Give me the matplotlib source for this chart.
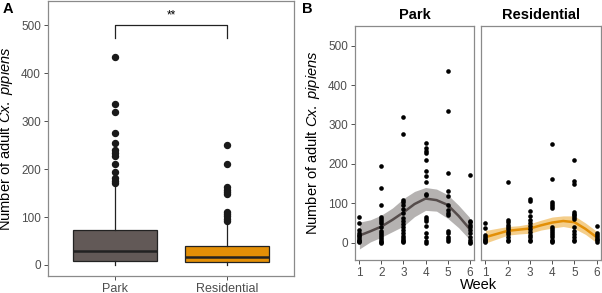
import matplotlib
matplotlib.use("Agg")
import matplotlib.pyplot as plt
import numpy as np

plt.rcParams['font.family'] = ['Liberation Sans', 'DejaVu Sans']
plt.rcParams['mathtext.fontset'] = 'custom'
plt.rcParams['mathtext.rm'] = 'Liberation Sans'
plt.rcParams['mathtext.it'] = 'Liberation Sans:italic'

# ---------------- data ----------------
sites = ["Park", "Residential"]
# panel A box statistics
box_q1 = [8, 6]
box_med = [29, 17]
box_q3 = [73, 40]
box_whislo = [0, 0]
box_whishi = [169, 85]
park_fliers = [435, 335, 320, 276, 254, 240, 233, 227, 210, 195, 181, 176, 172]
res_fliers = [250, 210, 162, 157, 153, 148, 110, 106, 102, 97, 92]

weeks = [1, 2, 3, 4, 5, 6]
park_by_week = [
    [66, 50, 32, 25, 20, 16, 12, 8, 5, 3, 1],
    [195, 140, 95, 66, 60, 55, 50, 40, 30, 25, 20, 15, 10, 5, 2, 0],
    [320, 276, 108, 103, 95, 85, 75, 62, 55, 48, 40, 32, 25, 18, 12, 8, 4, 1],
    [254, 240, 233, 227, 210, 181, 169, 155, 124, 122, 66, 60, 54, 42, 25, 15, 5, 0],
    [435, 335, 176, 131, 119, 95, 82, 76, 70, 30, 24, 15, 10, 5],
    [172, 56, 52, 45, 40, 32, 24, 15, 8, 2, 0],
]
res_by_week = [
    [50, 36, 20, 14, 10, 7, 4, 2],
    [153, 58, 52, 45, 40, 34, 28, 22, 15, 8, 4],
    [110, 106, 81, 68, 58, 51, 42, 35, 28, 20, 14, 7, 3],
    [250, 162, 102, 97, 92, 87, 40, 35, 30, 25, 20, 14, 8, 4, 1],
    [210, 157, 148, 78, 74, 70, 66, 60, 40, 30, 22, 15, 8, 3],
    [42, 25, 20, 15, 10, 6, 2],
]
# loess smooth read at half-week steps
smooth_week = [1, 1.5, 2, 2.5, 3, 3.5, 4, 4.5, 5, 5.5, 6]
park_fit = [18, 29, 41, 58, 77, 98, 112, 108, 96, 68, 35]
park_hi = [52, 58, 70, 88, 112, 130, 140, 136, 122, 95, 64]
park_lo = [-16, 2, 14, 28, 42, 66, 82, 80, 62, 38, 8]
res_fit = [14, 22, 30, 33, 36, 44, 51, 55, 52, 35, 14]
res_hi = [31, 36, 41, 43, 48, 57, 65, 68, 68, 50, 29]
res_lo = [-1, 9, 19, 22, 24, 32, 37, 41, 36, 21, 0]

# ---------------- style ----------------
park_col = "#625957"
res_col = "#E38F06"
park_line = "#554C4B"
park_band = "#A8A5A4"
res_band = "#F3C677"
spine_col = "#8A8A8A"
tick_col = "#4D4D4D"
W, H = 602, 293

fig = plt.figure(figsize=(W / 100, H / 100), dpi=100)

def style(ax):
    for s in ax.spines.values():
        s.set_color(spine_col)
        s.set_linewidth(0.9)
    ax.tick_params(colors="#333333", labelcolor=tick_col, labelsize=8.5,
                   length=3, width=0.6, pad=2)

ylab = "Number of adult $\\it{Cx.\\ pipiens}$"

# ---------------- panel A ----------------
axA = fig.add_axes([48 / W, 1 - 276 / H, (294 - 48) / W, 275 / H])
stats = []
fl = [park_fliers, res_fliers]
for i in range(2):
    stats.append(dict(med=box_med[i], q1=box_q1[i], q3=box_q3[i],
                      whislo=box_whislo[i], whishi=box_whishi[i],
                      fliers=fl[i], label=sites[i]))
bp = axA.bxp(stats, positions=[1, 2], widths=0.75, patch_artist=True,
             showcaps=False,
             boxprops=dict(edgecolor="#222222", linewidth=0.9),
             medianprops=dict(color="#222222", linewidth=1.8),
             whiskerprops=dict(color="#222222", linewidth=0.9),
             flierprops=dict(marker="o", markerfacecolor="#1a1a1a",
                             markeredgecolor="#1a1a1a", markersize=4.3))
for patch, c in zip(bp["boxes"], [park_col, res_col]):
    patch.set_facecolor(c)
axA.set_xlim(0.4, 2.6)
axA.set_ylim(-23, 551)
axA.set_yticks([0, 100, 200, 300, 400, 500])
axA.set_xticks([1, 2])
axA.set_xticklabels(sites)
style(axA)
axA.tick_params(axis="x", labelsize=9)
axA.set_ylabel(ylab, fontsize=10.5)
axA.yaxis.set_label_coords(-0.135, 0.5)
# significance bracket
axA.plot([1, 1, 2, 2], [474, 500, 500, 474], color="#222222", lw=0.9)
axA.text(1.5, 508, "**", ha="center", va="bottom", fontsize=8.5)
fig.text(3 / W, 1 - 9 / H, "A", fontsize=10.5, fontweight="bold", va="center")

# ---------------- panel B ----------------
axB1 = fig.add_axes([355 / W, 1 - 260 / H, 119 / W, 234 / H])
axB2 = fig.add_axes([481 / W, 1 - 260 / H, 120 / W, 234 / H])
panels = [(axB1, park_by_week, park_fit, park_lo, park_hi, park_line, park_band, "Park"),
          (axB2, res_by_week, res_fit, res_lo, res_hi, res_col, res_band, "Residential")]
for ax, data, fit, lo, hi, lc, bc, title in panels:
    ax.fill_between(smooth_week, lo, hi, color=bc, alpha=0.85, lw=0, zorder=1)
    ax.plot(smooth_week, fit, color=lc, lw=1.8, zorder=2)
    for wk, vals in zip(weeks, data):
        ax.scatter([wk] * len(vals), vals, s=11, color="black", lw=0, zorder=3)
    ax.set_xlim(0.8, 6.2)
    ax.set_ylim(-44, 550)
    ax.set_xticks(weeks)
    style(ax)
    ax.set_title(title, fontsize=10.5, fontweight="bold", pad=5)
axB1.set_yticks([0, 100, 200, 300, 400, 500])
axB1.set_ylabel(ylab, fontsize=10.5)
axB1.yaxis.set_label_coords(-0.28, 0.5)
axB2.set_yticks([])
fig.text(478 / W, 1 - 285 / H, "Week", ha="center", va="center", fontsize=10.5)
fig.text(302 / W, 1 - 9 / H, "B", fontsize=10.5, fontweight="bold", va="center")

fig.savefig("out.png", dpi=100)
